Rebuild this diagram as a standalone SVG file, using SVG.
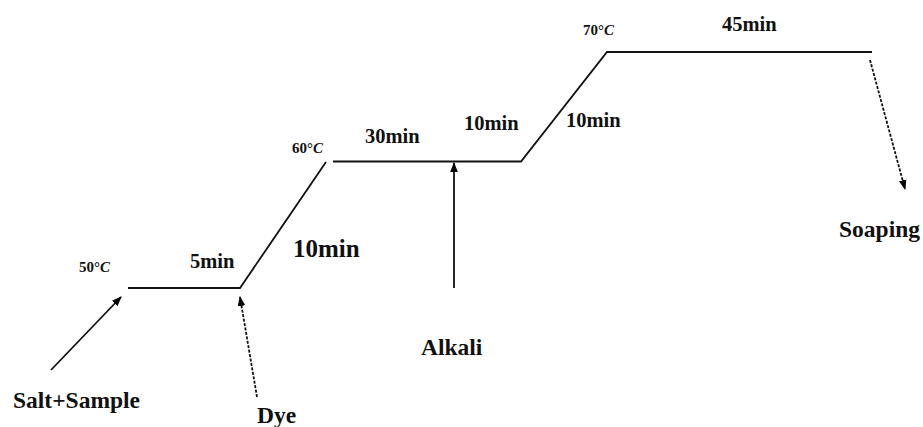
<svg xmlns="http://www.w3.org/2000/svg" width="923" height="427" viewBox="0 0 923 427">
<defs>
<marker id="ah" viewBox="0 0 10 10" refX="9" refY="5" markerWidth="10" markerHeight="10" markerUnits="userSpaceOnUse" orient="auto">
<path d="M0,1.2 L10,5 L0,8.8 Z" fill="#000"/>
</marker>
</defs>
<style>
.ln{stroke:#111;stroke-width:1.8;fill:none}
.ar{stroke:#111;stroke-width:1.8;fill:none;marker-end:url(#ah)}
.da{stroke-dasharray:3 1.5}
</style>
<rect width="923" height="427" fill="#fff"/>
<g id="profile">
<polyline class="ln" points="128,288 240,288 326,162"/>
<polyline class="ln" points="333,161.5 521,161.5 607,52 872,52"/>
</g>
<g id="labels" font-family="Liberation Serif" font-weight="bold" fill="#111">
<text x="79" y="272" font-size="15">50°<tspan font-style="italic">C</tspan></text>
<text x="190" y="268" font-size="20.5">5min</text>
<text x="293" y="257" font-size="25">10min</text>
<text x="292" y="153" font-size="15">60°<tspan font-style="italic">C</tspan></text>
<text x="365" y="143" font-size="20.5">30min</text>
<text x="464" y="130" font-size="20.5">10min</text>
<text x="566" y="127" font-size="20.5">10min</text>
<text x="583" y="35" font-size="15">70°<tspan font-style="italic">C</tspan></text>
<text x="722" y="31" font-size="20.5">45min</text>
</g>
<g id="node-salt" font-family="Liberation Serif" font-weight="bold" fill="#111"><text x="13" y="408" font-size="23.5">Salt+Sample</text></g>
<g id="node-dye" font-family="Liberation Serif" font-weight="bold" fill="#111"><text x="257" y="423" font-size="23.5">Dye</text></g>
<g id="node-alkali" font-family="Liberation Serif" font-weight="bold" fill="#111"><text x="421" y="355" font-size="23.5">Alkali</text></g>
<g id="node-soaping" font-family="Liberation Serif" font-weight="bold" fill="#111"><text x="839" y="237" font-size="23.5">Soaping</text></g>
<g id="connectors">
<line class="ar" x1="51" y1="370" x2="121" y2="297"/>
<line class="ar da" x1="257" y1="397" x2="240" y2="297"/>
<line class="ar" x1="454" y1="288" x2="454" y2="163"/>
<line class="ar da" x1="870" y1="60" x2="905" y2="189"/>
</g>
</svg>
